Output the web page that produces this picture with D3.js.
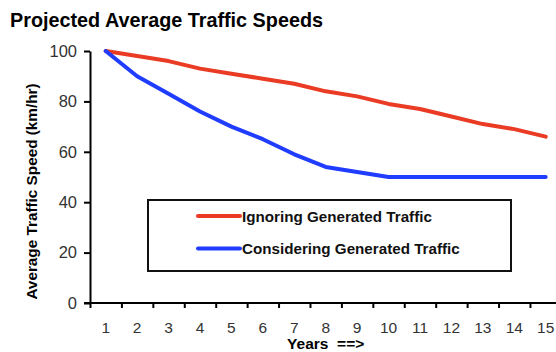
<!DOCTYPE html>
<html>
<head>
<meta charset="utf-8">
<script src="https://cdn.jsdelivr.net/npm/d3@7"></script>
<style>
  html, body { margin: 0; padding: 0; background: #fff; }
  svg { display: block; font-family: "Liberation Sans", Arial, sans-serif; }
</style>
</head>
<body>
<svg id="chart" width="556" height="352"></svg>
<script>
// Projected speeds over a 15-year horizon
const years = d3.range(1, 16);
const ignoringGenerated = [100, 98, 96, 93, 91, 89, 87, 84, 82, 79, 77, 74, 71, 69, 66];
const consideringGenerated = [100, 90, 83, 76, 70, 65, 59, 54, 52, 50, 50, 50, 50, 50, 50];
const yTicks = [0, 20, 40, 60, 80, 100];
const seriesNames = ["Ignoring Generated Traffic", "Considering Generated Traffic"];
const seriesColors = ["#ea3b24", "#1f3cff"];

const svg = d3.select("#chart");
const plotLeft = 90, plotRight = 561.4, plotTop = 51, plotBottom = 303;

const x = d3.scaleBand().domain(years).range([plotLeft, plotRight]).padding(0);
const xEdge = d3.scaleLinear().domain([0.5, 15.5]).range([plotLeft, plotRight]);
const y = d3.scaleLinear().domain([0, 100]).range([plotBottom, plotTop]);

// Title
svg.append("text")
  .attr("x", 10).attr("y", 27)
  .attr("font-size", 19.8).attr("font-weight", "bold").attr("fill", "#000")
  .text("Projected Average Traffic Speeds");

// Y axis
const yAxis = svg.append("g")
  .attr("transform", `translate(${plotLeft},0)`)
  .call(d3.axisLeft(y).tickValues(yTicks).tickSize(6).tickPadding(7).tickSizeOuter(0));
yAxis.select(".domain").attr("stroke", "#000").attr("stroke-width", 2);
yAxis.selectAll(".tick line").attr("stroke", "#000").attr("stroke-width", 2);
yAxis.selectAll(".tick text").attr("font-size", 16.5).attr("fill", "#333")
  .attr("font-family", "'Liberation Sans', Arial, sans-serif");

// X axis: tick marks at category boundaries
const xTicks = svg.append("g")
  .attr("transform", `translate(0,${plotBottom})`)
  .call(d3.axisBottom(xEdge).tickValues(d3.range(0.5, 16, 1)).tickSize(5).tickFormat("").tickSizeOuter(0));
xTicks.select(".domain").attr("stroke", "#000").attr("stroke-width", 2)
  .attr("d", `M${plotLeft - 6},0H${plotRight}`);
xTicks.selectAll(".tick line").attr("stroke", "#000").attr("stroke-width", 2);

// X axis: category labels centred in each band
const xLabels = svg.append("g")
  .attr("transform", `translate(0,${plotBottom})`)
  .call(d3.axisBottom(x).tickSize(0).tickPadding(19));
xLabels.select(".domain").remove();
xLabels.selectAll(".tick text").attr("font-size", 15.5).attr("fill", "#333")
  .attr("font-family", "'Liberation Sans', Arial, sans-serif");

// Axis titles
svg.append("text")
  .attr("x", (plotLeft + plotRight) / 2).attr("y", 348.5)
  .attr("text-anchor", "middle").attr("font-size", 15.5).attr("font-weight", "bold")
  .style("white-space", "pre")
  .text("Years  ==>");

svg.append("text")
  .attr("transform", `translate(37,191.5) rotate(-90)`)
  .attr("text-anchor", "middle").attr("font-size", 15.3).attr("font-weight", "bold")
  .text("Average Traffic Speed (km/hr)");

// Series lines
const line = d3.line()
  .x((d, i) => x(years[i]) + x.bandwidth() / 2)
  .y(d => y(d));

[ignoringGenerated, consideringGenerated].forEach((vals, k) => {
  svg.append("path")
    .datum(vals)
    .attr("fill", "none")
    .attr("stroke", seriesColors[k])
    .attr("stroke-width", 4)
    .attr("stroke-linejoin", "round")
    .attr("stroke-linecap", "round")
    .attr("d", line);
});

// Legend
const legend = svg.append("g");
legend.append("rect")
  .attr("x", 148).attr("y", 200).attr("width", 363).attr("height", 71)
  .attr("fill", "#fff").attr("stroke", "#111").attr("stroke-width", 2);

seriesNames.forEach((name, k) => {
  const ly = 216 + k * 32.5;
  legend.append("line")
    .attr("x1", 198).attr("x2", 240).attr("y1", ly).attr("y2", ly)
    .attr("stroke", seriesColors[k]).attr("stroke-width", 4).attr("stroke-linecap", "round");
  legend.append("text")
    .attr("x", 242).attr("y", ly + 5.5)
    .attr("font-size", 15.2).attr("font-weight", "bold").attr("fill", "#111")
    .text(name);
});
</script>
</body>
</html>
